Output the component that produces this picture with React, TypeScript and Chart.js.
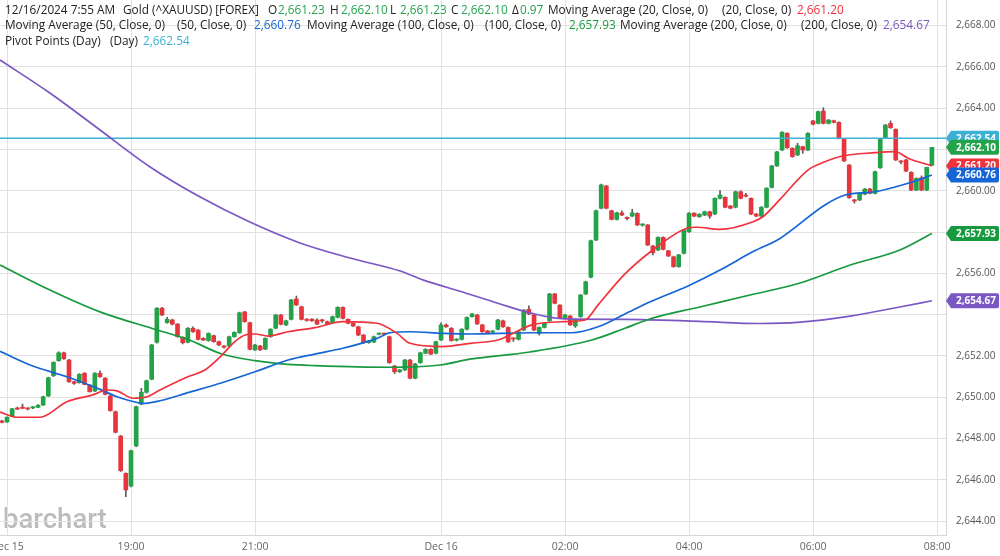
import React, { useEffect, useRef } from 'react';
import { Chart, registerables } from 'chart.js';

Chart.register(...registerables);

// ---------- data (5-minute bars, index 0 = Dec 15 17:00, index -1 = previous session's last bar) ----------
const FIRST_BAR = -1;

const OPEN = [
  2648.85, 2648.80, 2649.09, 2649.45, 2649.48, 2649.45, 2649.48, 2649.51, 2649.62, 2650.06,
  2651.04, 2651.77, 2652.15, 2651.80, 2650.75, 2650.70, 2651.16, 2650.59, 2650.30, 2651.16,
  2650.92, 2650.06, 2649.30, 2648.12, 2646.31, 2645.70, 2647.64, 2649.67, 2650.24, 2650.87,
  2652.66, 2654.31, 2653.61, 2653.74, 2653.54, 2652.90, 2652.66, 2653.34, 2653.25, 2652.85,
  2652.74, 2652.98, 2652.69, 2652.48, 2652.48, 2652.93, 2653.12, 2654.13, 2653.61, 2652.29,
  2652.48, 2652.33, 2652.93, 2653.34, 2653.98, 2653.50, 2653.77, 2654.76, 2654.38, 2653.74,
  2653.78, 2653.74, 2653.71, 2653.66, 2653.61, 2653.87, 2654.35, 2653.77, 2653.58, 2653.41,
  2653.01, 2652.64, 2652.67, 2653.05, 2653.07, 2652.93, 2651.51, 2651.23, 2651.32, 2651.80,
  2650.92, 2651.67, 2652.13, 2652.32, 2652.13, 2652.77, 2653.50, 2653.34, 2652.76, 2652.80,
  2653.29, 2653.90, 2653.98, 2653.50, 2653.21, 2653.15, 2653.29, 2653.70, 2653.38, 2652.84,
  2652.80, 2653.25, 2654.26, 2653.98, 2653.09, 2653.38, 2653.70, 2655.00, 2654.46, 2653.82,
  2653.93, 2653.45, 2653.90, 2655.00, 2655.81, 2657.61, 2659.15, 2660.23, 2659.03, 2658.61,
  2658.93, 2658.67, 2658.77, 2658.90, 2658.33, 2658.34, 2657.32, 2657.13, 2657.74, 2657.09,
  2656.80, 2656.32, 2656.97, 2658.01, 2658.91, 2658.74, 2658.82, 2658.98, 2658.87, 2659.63,
  2659.68, 2659.26, 2659.20, 2659.95, 2659.75, 2659.63, 2658.87, 2658.77, 2659.20, 2660.16,
  2661.20, 2661.97, 2662.78, 2662.05, 2661.73, 2662.13, 2661.97, 2663.38, 2663.26, 2663.86,
  2663.26, 2663.39, 2663.31, 2662.50, 2661.24, 2659.52, 2659.55, 2659.83, 2660.08, 2659.87,
  2661.11, 2662.57, 2663.26, 2662.97, 2661.41, 2661.49, 2660.89, 2660.03, 2660.63, 2660.03,
  2661.23,
];

const HIGH = [
  2648.88, 2649.05, 2649.46, 2649.52, 2649.67, 2649.48, 2649.55, 2649.64, 2650.05, 2650.97,
  2651.72, 2652.20, 2652.19, 2651.83, 2650.78, 2651.14, 2651.19, 2650.62, 2651.19, 2651.28,
  2650.95, 2650.09, 2649.33, 2648.15, 2646.34, 2647.44, 2649.57, 2650.43, 2650.83, 2652.56,
  2654.34, 2654.35, 2653.87, 2653.78, 2653.57, 2652.93, 2653.37, 2653.41, 2653.28, 2652.88,
  2653.12, 2653.01, 2652.72, 2652.50, 2652.96, 2653.17, 2654.12, 2654.16, 2653.64, 2652.56,
  2652.51, 2652.88, 2653.32, 2654.01, 2654.01, 2653.73, 2654.74, 2654.90, 2654.41, 2653.80,
  2653.81, 2653.80, 2653.78, 2653.69, 2653.93, 2654.38, 2654.38, 2653.80, 2653.61, 2653.44,
  2653.04, 2652.75, 2652.96, 2653.10, 2653.10, 2652.96, 2651.54, 2651.35, 2651.83, 2651.83,
  2651.64, 2652.18, 2652.35, 2652.35, 2652.72, 2653.60, 2653.55, 2653.37, 2652.83, 2653.32,
  2653.89, 2654.06, 2654.01, 2653.53, 2653.24, 2653.23, 2653.77, 2653.73, 2653.41, 2652.87,
  2653.20, 2654.25, 2654.42, 2654.01, 2653.41, 2653.61, 2655.03, 2655.03, 2654.49, 2654.01,
  2653.96, 2653.80, 2654.98, 2655.62, 2657.61, 2659.06, 2660.32, 2660.26, 2659.06, 2658.96,
  2659.03, 2658.74, 2659.10, 2658.93, 2658.40, 2658.37, 2657.35, 2657.77, 2657.77, 2657.12,
  2656.83, 2656.92, 2658.13, 2658.94, 2658.94, 2658.89, 2659.01, 2659.01, 2659.66, 2660.00,
  2659.71, 2659.29, 2659.98, 2660.00, 2659.87, 2659.66, 2658.90, 2659.23, 2660.15, 2661.23,
  2661.91, 2662.86, 2662.81, 2662.08, 2662.30, 2662.16, 2662.81, 2663.41, 2663.86, 2664.02,
  2663.45, 2663.42, 2663.34, 2662.53, 2661.27, 2659.58, 2659.90, 2660.11, 2660.11, 2660.95,
  2662.53, 2663.21, 2663.38, 2663.00, 2661.45, 2661.52, 2660.92, 2660.63, 2660.72, 2661.14,
  2662.10,
];

const LOW = [
  2648.75, 2648.78, 2649.07, 2649.40, 2649.44, 2649.38, 2649.45, 2649.49, 2649.60, 2650.03,
  2651.00, 2651.74, 2651.83, 2650.72, 2650.62, 2650.68, 2650.60, 2650.24, 2650.27, 2650.96,
  2650.11, 2649.32, 2648.27, 2646.40, 2645.18, 2645.65, 2647.60, 2649.63, 2650.20, 2650.84,
  2652.62, 2653.95, 2653.58, 2653.50, 2652.90, 2652.58, 2652.63, 2653.14, 2652.77, 2652.74,
  2652.71, 2652.66, 2652.50, 2652.38, 2652.45, 2652.90, 2653.09, 2653.63, 2652.29, 2652.26,
  2652.26, 2652.30, 2652.90, 2653.31, 2653.50, 2653.47, 2653.74, 2654.44, 2653.74, 2653.68,
  2653.67, 2653.51, 2653.62, 2653.50, 2653.58, 2653.84, 2653.79, 2653.55, 2653.42, 2652.98,
  2652.61, 2652.61, 2652.64, 2653.02, 2653.02, 2651.64, 2651.15, 2651.20, 2651.29, 2650.89,
  2650.89, 2651.64, 2652.10, 2652.06, 2652.10, 2652.74, 2653.38, 2652.71, 2652.72, 2652.77,
  2653.26, 2653.87, 2653.52, 2653.14, 2653.09, 2653.12, 2653.26, 2653.38, 2652.65, 2652.70,
  2652.77, 2653.22, 2654.00, 2653.22, 2653.01, 2653.35, 2653.67, 2654.52, 2653.82, 2653.79,
  2653.47, 2653.38, 2653.87, 2654.97, 2655.78, 2657.58, 2659.12, 2659.12, 2658.58, 2658.58,
  2658.79, 2658.58, 2658.74, 2658.31, 2658.28, 2657.34, 2656.89, 2657.10, 2657.13, 2656.81,
  2656.29, 2656.29, 2656.94, 2657.98, 2658.74, 2658.71, 2658.79, 2658.66, 2658.84, 2659.60,
  2659.17, 2659.12, 2659.17, 2659.60, 2659.70, 2658.84, 2658.74, 2658.74, 2659.17, 2660.13,
  2661.17, 2661.94, 2662.05, 2661.62, 2661.70, 2661.81, 2661.94, 2663.19, 2663.23, 2663.23,
  2663.23, 2663.28, 2662.51, 2661.41, 2659.63, 2659.40, 2659.52, 2659.80, 2659.84, 2659.84,
  2661.08, 2662.54, 2663.02, 2661.46, 2661.30, 2660.92, 2660.00, 2660.00, 2660.00, 2660.00,
  2661.23,
];

const CLOSE = [
  2648.78, 2649.03, 2649.44, 2649.42, 2649.46, 2649.43, 2649.50, 2649.61, 2650.02, 2650.94,
  2651.69, 2652.15, 2651.86, 2650.75, 2650.67, 2651.11, 2650.62, 2650.27, 2651.16, 2650.99,
  2650.14, 2649.35, 2648.30, 2646.44, 2645.51, 2647.41, 2649.54, 2650.24, 2650.80, 2652.53,
  2654.31, 2653.98, 2653.77, 2653.54, 2652.93, 2652.64, 2653.34, 2653.17, 2652.80, 2652.77,
  2653.09, 2652.69, 2652.53, 2652.42, 2652.93, 2653.14, 2654.09, 2653.66, 2652.32, 2652.53,
  2652.29, 2652.85, 2653.29, 2653.98, 2653.53, 2653.70, 2654.71, 2654.47, 2653.77, 2653.72,
  2653.70, 2653.54, 2653.69, 2653.53, 2653.90, 2654.35, 2653.82, 2653.58, 2653.45, 2653.01,
  2652.64, 2652.72, 2652.93, 2653.07, 2653.05, 2651.67, 2651.23, 2651.32, 2651.80, 2650.92,
  2651.61, 2652.15, 2652.32, 2652.09, 2652.69, 2653.50, 2653.41, 2652.74, 2652.80, 2653.29,
  2653.86, 2654.03, 2653.55, 2653.17, 2653.12, 2653.20, 2653.74, 2653.41, 2652.68, 2652.82,
  2653.17, 2654.22, 2654.03, 2653.25, 2653.38, 2653.58, 2655.00, 2654.55, 2653.85, 2653.98,
  2653.50, 2653.77, 2654.95, 2655.59, 2657.58, 2659.03, 2660.28, 2659.15, 2658.61, 2658.93,
  2658.82, 2658.65, 2658.93, 2658.34, 2658.37, 2657.37, 2657.00, 2657.74, 2657.16, 2656.84,
  2656.32, 2656.89, 2658.10, 2658.91, 2658.77, 2658.86, 2658.98, 2658.77, 2659.63, 2659.79,
  2659.20, 2659.15, 2659.95, 2659.63, 2659.73, 2658.87, 2658.77, 2659.20, 2660.12, 2661.20,
  2661.88, 2662.83, 2662.08, 2661.65, 2662.18, 2661.97, 2662.78, 2663.22, 2663.83, 2663.26,
  2663.42, 2663.31, 2662.54, 2661.44, 2659.66, 2659.50, 2659.87, 2660.08, 2659.87, 2660.92,
  2662.50, 2663.18, 2663.05, 2661.49, 2661.39, 2660.95, 2660.03, 2660.60, 2660.03, 2661.13,
  2662.10,
];

// moving averages at bar positions
const MA20_IDX = [-1.35, 1.9, 6.4, 11.6, 16.6, 19.4, 21.3, 24.4, 27.1, 29.6, 35.0, 38.3, 41.6, 44.1, 46.1, 48.0, 50.5, 54.4, 59.6, 65.0, 71.6, 75.5, 78.0, 84.4, 89.6, 95.0, 101.6, 108.0, 111.9, 114.4, 119.6, 125.0, 131.6, 133.5, 138.0, 144.4, 146.3, 149.6, 155.0, 158.3, 161.6, 168.0, 171.9, 174.4, 179.0];
const MA20_VAL = [2649.28, 2649.03, 2649.03, 2649.78, 2650.11, 2650.35, 2650.31, 2649.95, 2650.02, 2650.35, 2650.99, 2651.32, 2652.04, 2652.69, 2653.01, 2653.06, 2652.96, 2653.17, 2653.37, 2653.66, 2653.58, 2653.09, 2652.61, 2652.45, 2652.61, 2652.77, 2653.50, 2653.66, 2653.74, 2654.47, 2655.97, 2657.13, 2658.18, 2658.23, 2658.13, 2658.50, 2658.74, 2659.58, 2661.00, 2661.40, 2661.68, 2661.84, 2661.89, 2661.57, 2661.20];

const MA50_IDX = [-1.35, 5.0, 11.6, 18.0, 21.3, 23.8, 26.3, 29.6, 35.0, 41.6, 48.0, 54.4, 59.6, 65.0, 71.6, 74.1, 78.0, 84.4, 89.6, 101.6, 109.3, 114.4, 119.6, 124.4, 131.8, 138.0, 144.4, 149.6, 158.3, 162.2, 168.0, 174.4, 179.0];
const MA50_VAL = [2652.22, 2651.51, 2650.99, 2650.38, 2650.02, 2649.83, 2649.70, 2649.83, 2650.22, 2650.70, 2651.23, 2651.80, 2652.09, 2652.37, 2652.85, 2653.12, 2653.17, 2653.09, 2653.06, 2653.12, 2653.12, 2653.41, 2654.03, 2654.61, 2655.39, 2656.16, 2657.05, 2657.69, 2659.31, 2659.79, 2659.95, 2660.36, 2660.76];

const MA100_IDX = [-1.35, 8.3, 18.0, 28.6, 35.0, 41.6, 48.0, 54.4, 59.6, 74.1, 83.8, 89.6, 101.2, 113.2, 119.6, 124.4, 134.1, 143.8, 153.5, 163.2, 172.8, 179.0];
const MA100_VAL = [2656.40, 2655.19, 2654.13, 2653.29, 2652.80, 2652.09, 2651.77, 2651.59, 2651.53, 2651.45, 2651.56, 2651.84, 2652.19, 2652.77, 2653.34, 2653.79, 2654.37, 2654.95, 2655.53, 2656.40, 2657.13, 2657.93];

const MA200_IDX = [-1.35, 8.3, 18.0, 27.7, 37.4, 47.0, 56.7, 66.4, 76.1, 80.5, 88.6, 95.0, 101.6, 108.0, 119.6, 134.1, 145.7, 153.5, 163.2, 172.8, 179.0];
const MA200_VAL = [2666.33, 2664.73, 2662.94, 2661.15, 2659.69, 2658.48, 2657.47, 2656.74, 2656.11, 2655.68, 2655.06, 2654.55, 2654.06, 2653.79, 2653.77, 2653.67, 2653.57, 2653.64, 2653.93, 2654.37, 2654.67];

const PIVOT = 2662.54;
const CHANGE = 0.97;

const X_TICK_IDX = [0, 24, 48, 84, 108, 132, 156, 180];
const X_TICK_LABELS = ['Dec 15', '19:00', '21:00', 'Dec 16', '02:00', '04:00', '06:00', '08:00'];
const PRICE_TICKS = [2644, 2646, 2648, 2650, 2652, 2654, 2656, 2658, 2660, 2662, 2664, 2666, 2668];

// ---------- view / style ----------
const X_MIN = -1.355;
const X_MAX = 181.73;
const Y_MIN = 2643.327;
const Y_MAX = 2669.235;

const UP = '#22a347';
const DOWN = '#e6353d';
const WICK = '#5c5c5c';
const C_RED = '#f0323c';
const C_BLUE = '#1565d6';
const C_GREEN = '#179a3f';
const C_PURPLE = '#7b57c4';
const C_CYAN = '#3bb1d6';
const C_VAL_GREEN = '#22a44c';
const TXT = '#222222';
const FONT = '"Open Sans", "Noto Sans", sans-serif';

const fmt = (v: number) =>
  v.toLocaleString('en-US', { minimumFractionDigits: 2, maximumFractionDigits: 2 });

export default function App() {
  const ref = useRef<HTMLCanvasElement | null>(null);

  useEffect(() => {
    document.body.style.margin = '0';
    const canvas = ref.current;
    if (!canvas) return;

    const last = (a: number[]) => a[a.length - 1];
    const n = OPEN.length;
    const lastO = OPEN[n - 1], lastH = HIGH[n - 1], lastL = LOW[n - 1], lastC = CLOSE[n - 1];

    const tags = [
      { v: PIVOT, c: C_CYAN },
      { v: lastC, c: C_VAL_GREEN },
      { v: last(MA20_VAL), c: C_RED },
      { v: last(MA50_VAL), c: C_BLUE },
      { v: last(MA100_VAL), c: C_GREEN },
      { v: last(MA200_VAL), c: C_PURPLE },
    ];

    // header segments: [line, x, text, color]
    const header: [number, number, string, string][] = [
      [0, 5, '12/16/2024 7:55 AM', TXT],
      [0, 123, 'Gold (^XAUUSD) [FOREX]', TXT],
      [0, 268, 'O', TXT], [0, 278, fmt(lastO), C_VAL_GREEN],
      [0, 330, 'H', TXT], [0, 341, fmt(lastH), C_VAL_GREEN],
      [0, 390, 'L', TXT], [0, 400, fmt(lastL), C_VAL_GREEN],
      [0, 451, 'C', TXT], [0, 461, fmt(lastC), C_VAL_GREEN],
      [0, 512, '\u0394', TXT], [0, 520, CHANGE.toFixed(2), C_VAL_GREEN],
      [0, 548, 'Moving Average (20, Close, 0)', TXT],
      [0, 722, '(20, Close, 0)', TXT],
      [0, 797, fmt(last(MA20_VAL)), C_RED],
      [1, 5, 'Moving Average (50, Close, 0)', TXT],
      [1, 177, '(50, Close, 0)', TXT],
      [1, 254, fmt(last(MA50_VAL)), C_BLUE],
      [1, 307, 'Moving Average (100, Close, 0)', TXT],
      [1, 485, '(100, Close, 0)', TXT],
      [1, 569, fmt(last(MA100_VAL)), C_GREEN],
      [1, 620, 'Moving Average (200, Close, 0)', TXT],
      [1, 801, '(200, Close, 0)', TXT],
      [1, 883, fmt(last(MA200_VAL)), C_PURPLE],
      [2, 5, 'Pivot Points (Day)', TXT],
      [2, 110, '(Day)', TXT],
      [2, 143, fmt(PIVOT), C_CYAN],
    ];
    const baselines = [13.5, 29.3, 45];

    const overlay = {
      id: 'overlay',
      beforeDraw(chart: any) {
        const ctx = chart.ctx;
        ctx.save();
        ctx.fillStyle = '#ffffff';
        ctx.fillRect(0, 0, chart.width, chart.height);
        ctx.font = `500 27.5px Roboto, ${FONT}`;
        ctx.fillStyle = 'rgba(160,160,160,0.7)';
        ctx.textBaseline = 'alphabetic';
        ctx.textAlign = 'left';
        ctx.fillText('barchart', 3, 528);
        ctx.restore();
      },
      afterDraw(chart: any) {
        const ctx = chart.ctx;
        const yScale = chart.scales.y;
        const area = chart.chartArea;
        ctx.save();
        // header legend text
        ctx.font = `11.8px ${FONT}`;
        ctx.textBaseline = 'alphabetic';
        ctx.textAlign = 'left';
        header.forEach(([line, x, text, color]) => {
          ctx.fillStyle = color;
          ctx.fillText(text, x, baselines[line]);
        });
        // price tags on the right axis
        const h = 15;
        const left = area.right;
        const right = 999;
        ctx.font = `bold 10px ${FONT}`;
        ctx.textBaseline = 'middle';
        tags.forEach((t) => {
          const y = yScale.getPixelForValue(t.v);
          ctx.beginPath();
          ctx.moveTo(left, y);
          ctx.lineTo(left + 5, y - h / 2);
          ctx.lineTo(right - 2, y - h / 2);
          ctx.quadraticCurveTo(right, y - h / 2, right, y - h / 2 + 2);
          ctx.lineTo(right, y + h / 2 - 2);
          ctx.quadraticCurveTo(right, y + h / 2, right - 2, y + h / 2);
          ctx.lineTo(left + 5, y + h / 2);
          ctx.closePath();
          ctx.fillStyle = t.c;
          ctx.fill();
          ctx.fillStyle = '#ffffff';
          ctx.fillText(fmt(t.v), 956, y + 0.5);
        });
        ctx.restore();
      },
    };

    const xs = OPEN.map((_, k) => FIRST_BAR + k);
    const candleColors = OPEN.map((o, k) => (CLOSE[k] >= o ? UP : DOWN));

    const maLine = (label: string, idx: number[], val: number[], color: string) => ({
      type: 'line' as const,
      label,
      data: idx.map((x, k) => ({ x, y: val[k] })),
      borderColor: color,
      borderWidth: 1.7,
      pointRadius: 0,
      tension: 0.4,
      cubicInterpolationMode: 'monotone' as const,
      order: 0,
    });

    const chart = new Chart(canvas, {
      type: 'bar',
      data: {
        datasets: [
          maLine('MA20', MA20_IDX, MA20_VAL, C_RED),
          maLine('MA50', MA50_IDX, MA50_VAL, C_BLUE),
          maLine('MA100', MA100_IDX, MA100_VAL, C_GREEN),
          maLine('MA200', MA200_IDX, MA200_VAL, C_PURPLE),
          {
            type: 'line',
            label: 'Pivot',
            data: [{ x: X_MIN, y: PIVOT }, { x: X_MAX, y: PIVOT }],
            borderColor: C_CYAN,
            borderWidth: 1.6,
            pointRadius: 0,
            order: 0,
          },
          {
            type: 'bar',
            label: 'Body',
            data: xs.map((x, k) => ({ x, y: [OPEN[k], CLOSE[k]] })),
            backgroundColor: candleColors,
            borderWidth: 0,
            barThickness: 4,
            minBarLength: 1.2,
            grouped: false,
            order: 1,
          },
          {
            type: 'bar',
            label: 'Wick',
            data: xs.map((x, k) => ({ x, y: [LOW[k], HIGH[k]] })),
            backgroundColor: WICK,
            borderWidth: 0,
            barThickness: 1,
            grouped: false,
            order: 2,
          },
        ] as any,
      },
      options: {
        responsive: false,
        animation: false,
        layout: { padding: 0 },
        plugins: { legend: { display: false }, tooltip: { enabled: false } },
        scales: {
          x: {
            type: 'linear',
            min: X_MIN,
            max: X_MAX,
            bounds: 'data',
            offset: false,
            afterBuildTicks: (s: any) => {
              s.ticks = X_TICK_IDX.map((v) => ({ value: v }));
            },
            afterFit: (s: any) => {
              s.height = 21;
              s.paddingLeft = 0;
              s.paddingRight = 0;
            },
            ticks: {
              autoSkip: false,
              maxRotation: 0,
              padding: 6,
              color: '#666666',
              font: { family: FONT, size: 10.5 },
              callback: (_v: any, i: number) => X_TICK_LABELS[i],
            },
            grid: { color: '#e1e1e1', drawTicks: false, offset: false },
            border: { display: true, color: '#d6d6d6' },
          },
          y: {
            type: 'linear',
            position: 'right',
            min: Y_MIN,
            max: Y_MAX,
            bounds: 'data',
            afterBuildTicks: (s: any) => {
              s.ticks = PRICE_TICKS.map((v) => ({ value: v }));
            },
            afterFit: (s: any) => {
              s.width = 54;
              s.paddingTop = 0;
              s.paddingBottom = 0;
            },
            ticks: {
              padding: 10,
              color: '#555555',
              font: { family: FONT, size: 10 },
              callback: (v: any) => {
                const val = Number(v);
                const hidden = tags.some((t) => Math.abs(t.v - val) < 0.7);
                return hidden ? '' : fmt(val);
              },
            },
            grid: { color: '#e1e1e1', drawTicks: false },
            border: { display: true, color: '#d6d6d6' },
          },
        },
      } as any,
      plugins: [overlay],
    });

    return () => chart.destroy();
  }, []);

  return (
    <div style={{ position: 'absolute', left: 0, top: 0, width: 1000, height: 556 }}>
      <canvas ref={ref} width={1000} height={556} />
    </div>
  );
}
